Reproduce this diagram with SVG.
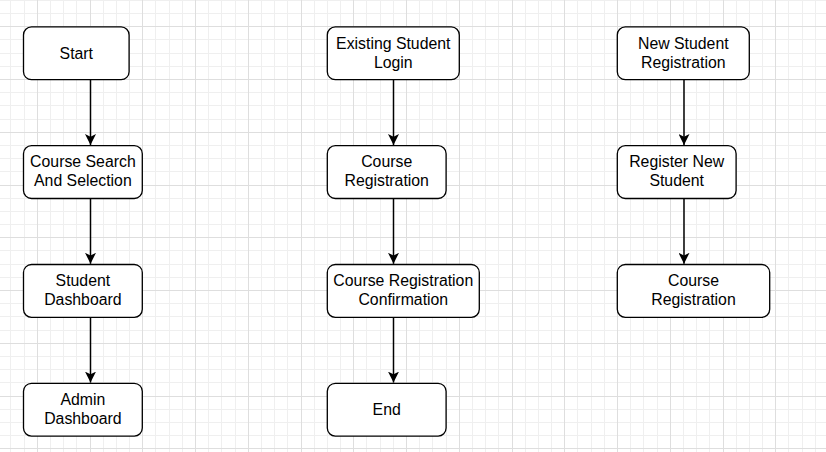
<svg xmlns="http://www.w3.org/2000/svg" width="826" height="452" viewBox="0 0 826 452">
<style>
.node rect{fill:#fff;stroke:#000;stroke-width:1.32}
.node text{font-family:"Liberation Sans",Arial,sans-serif;font-size:15.84px;fill:#000;text-anchor:middle}
.conn line{stroke:#000;stroke-width:1.5;fill:none}
.gmin{stroke:#efefef;stroke-width:1;fill:none}
.gmaj{stroke:#dedede;stroke-width:1;fill:none}
</style>
<defs>
<marker id="arr" markerUnits="userSpaceOnUse" viewBox="0 0 11 11" refX="11" refY="5.5" markerWidth="11" markerHeight="11" orient="auto">
<path d="M0,0 L11,5.5 L0,11 L2.75,5.5 Z" fill="#000"/>
</marker>
</defs>
<rect width="826" height="452" fill="#fff"/>
<g id="grid">
<path class="gmin" d="M10.5 0V452M24.5 0V452M50.5 0V452M63.5 0V452M76.5 0V452M103.5 0V452M116.5 0V452M129.5 0V452M155.5 0V452M169.5 0V452M182.5 0V452M208.5 0V452M221.5 0V452M235.5 0V452M261.5 0V452M274.5 0V452M287.5 0V452M314.5 0V452M327.5 0V452M340.5 0V452M366.5 0V452M380.5 0V452M393.5 0V452M419.5 0V452M432.5 0V452M446.5 0V452M472.5 0V452M485.5 0V452M498.5 0V452M525.5 0V452M538.5 0V452M551.5 0V452M577.5 0V452M591.5 0V452M604.5 0V452M630.5 0V452M643.5 0V452M657.5 0V452M683.5 0V452M696.5 0V452M709.5 0V452M736.5 0V452M749.5 0V452M762.5 0V452M788.5 0V452M802.5 0V452M815.5 0V452M0 0.5H826M0 13.5H826M0 39.5H826M0 53.5H826M0 66.5H826M0 92.5H826M0 105.5H826M0 119.5H826M0 145.5H826M0 158.5H826M0 171.5H826M0 198.5H826M0 211.5H826M0 224.5H826M0 250.5H826M0 264.5H826M0 277.5H826M0 303.5H826M0 316.5H826M0 330.5H826M0 356.5H826M0 369.5H826M0 382.5H826M0 409.5H826M0 422.5H826M0 435.5H826"/>
<path class="gmaj" d="M37.5 0V452M90.5 0V452M142.5 0V452M195.5 0V452M248.5 0V452M301.5 0V452M353.5 0V452M406.5 0V452M459.5 0V452M512.5 0V452M564.5 0V452M617.5 0V452M670.5 0V452M723.5 0V452M775.5 0V452M0 26.5H826M0 79.5H826M0 132.5H826M0 185.5H826M0 237.5H826M0 290.5H826M0 343.5H826M0 396.5H826M0 448.5H826"/>
</g>
<g id="connectors" class="conn">
<line x1="90.5" y1="79.7" x2="90.5" y2="145" marker-end="url(#arr)"/>
<line x1="90.5" y1="198.5" x2="90.5" y2="263.8" marker-end="url(#arr)"/>
<line x1="90.5" y1="317.3" x2="90.5" y2="382.6" marker-end="url(#arr)"/>
<line x1="393.5" y1="79.7" x2="393.5" y2="145" marker-end="url(#arr)"/>
<line x1="393.5" y1="198.5" x2="393.5" y2="263.8" marker-end="url(#arr)"/>
<line x1="393.5" y1="317.3" x2="393.5" y2="382.6" marker-end="url(#arr)"/>
<line x1="684" y1="79.7" x2="684" y2="145" marker-end="url(#arr)"/>
<line x1="684" y1="198.5" x2="684" y2="263.8" marker-end="url(#arr)"/>
</g>
<g id="start" class="node"><rect x="23.5" y="26.9" width="105.6" height="52.8" rx="8"/><text x="76.3" y="59">Start</text></g>
<g id="course-search" class="node"><rect x="23.5" y="145.7" width="118.8" height="52.8" rx="8"/><text x="82.9" y="167.3">Course Search</text><text x="82.9" y="186.3">And Selection</text></g>
<g id="student-dashboard" class="node"><rect x="23.5" y="264.5" width="118.8" height="52.8" rx="8"/><text x="82.9" y="286.1">Student</text><text x="82.9" y="305.1">Dashboard</text></g>
<g id="admin-dashboard" class="node"><rect x="23.5" y="383.3" width="118.8" height="52.8" rx="8"/><text x="82.9" y="404.9">Admin</text><text x="82.9" y="423.9">Dashboard</text></g>
<g id="existing-login" class="node"><rect x="327.3" y="26.9" width="132" height="52.8" rx="8"/><text x="393.3" y="48.5">Existing Student</text><text x="393.3" y="67.5">Login</text></g>
<g id="course-registration" class="node"><rect x="327.3" y="145.7" width="118.8" height="52.8" rx="8"/><text x="386.7" y="167.3">Course</text><text x="386.7" y="186.3">Registration</text></g>
<g id="registration-confirmation" class="node"><rect x="327.3" y="264.5" width="152" height="52.8" rx="8"/><text x="403.3" y="286.1">Course Registration</text><text x="403.3" y="305.1">Confirmation</text></g>
<g id="end" class="node"><rect x="327.3" y="383.3" width="118.8" height="52.8" rx="8"/><text x="386.7" y="415.4">End</text></g>
<g id="new-registration" class="node"><rect x="617.3" y="26.9" width="132" height="52.8" rx="8"/><text x="683.3" y="48.5">New Student</text><text x="683.3" y="67.5">Registration</text></g>
<g id="register-new" class="node"><rect x="617.3" y="145.7" width="118.8" height="52.8" rx="8"/><text x="676.7" y="167.3">Register New</text><text x="676.7" y="186.3">Student</text></g>
<g id="course-registration-2" class="node"><rect x="617.3" y="264.5" width="152.4" height="52.8" rx="8"/><text x="693.5" y="286.1">Course</text><text x="693.5" y="305.1">Registration</text></g>
</svg>
